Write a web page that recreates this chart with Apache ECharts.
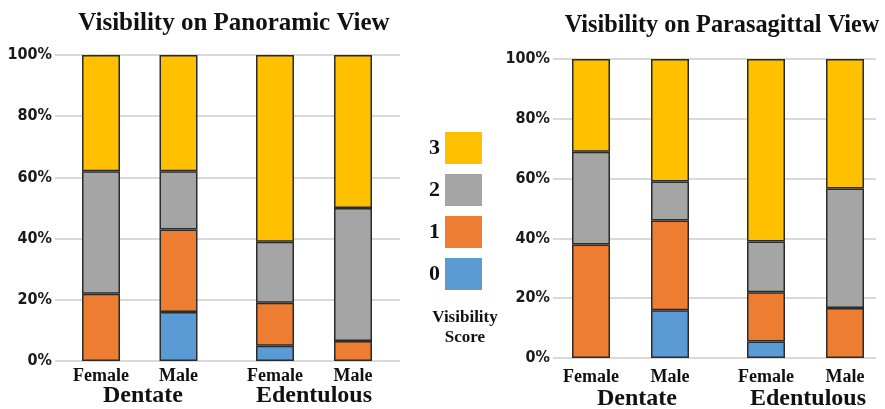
<!DOCTYPE html>
<html>
<head>
<meta charset="utf-8">
<script src="https://cdn.jsdelivr.net/npm/echarts@6/dist/echarts.min.js"></script>
<style>html,body{margin:0;padding:0;background:#fff}#c{width:885px;height:409px}</style>
</head>
<body>
<div id="c"></div>
<script>
// ---- data ----
const scores = ['0', '1', '2', '3'];
const sexes = ['Female', 'Male'];
const groups = ['Dentate', 'Edentulous'];
const yTicks = [0, 20, 40, 60, 80, 100];
const titles = ['Visibility on Panoramic View', 'Visibility on Parasagittal View'];
// percentages per score, [Female, Male]
const panoDentate = { '0': [0, 16], '1': [22, 27], '2': [40, 19], '3': [38, 38] };
const panoEdent   = { '0': [5, 0],  '1': [14, 6.5], '2': [20, 43.5], '3': [61, 50] };
const paraDentate = { '0': [0, 16], '1': [38, 30], '2': [31, 13], '3': [31, 41] };
const paraEdent   = { '0': [5.5, 0], '1': [16.5, 16.7], '2': [17, 40], '3': [61, 43.3] };

const colors = { '0': '#5B9BD5', '1': '#ED7D31', '2': '#A5A5A5', '3': '#FFC000' };
const serif = '"Liberation Serif", "Times New Roman", serif';
const narrow = '"Liberation Sans Narrow", "DejaVu Sans Condensed", sans-serif';

// layout
const charts = [
  { bg: { left: 55, width: 345, top: 55, height: 306 },
    bar: [{ left: 62.25, width: 155 }, { left: 236, width: 156 }],
    data: [panoDentate, panoEdent], catMargin: 6, title: [234, 24], titleSize: 25,
    groupLbl: [[143, 396], [314, 396]] },
  { bg: { left: 553, width: 323, top: 59, height: 299 },
    bar: [{ left: 551.5, width: 158 }, { left: 726.5, width: 158 }],
    data: [paraDentate, paraEdent], catMargin: 10, title: [722, 26], titleSize: 24.3,
    groupLbl: [[637, 399], [808, 399]] }
];

const grid = [], xAxis = [], yAxis = [], series = [], graphic = [];
charts.forEach((ch, ci) => {
  // background grid with gridlines + y labels
  const bgIdx = grid.length;
  grid.push({ left: ch.bg.left, top: ch.bg.top, width: ch.bg.width, height: ch.bg.height });
  xAxis.push({ gridIndex: bgIdx, type: 'value', min: 0, max: 1, show: false });
  yAxis.push({ gridIndex: bgIdx, type: 'value', min: yTicks[0], max: yTicks[yTicks.length - 1],
    interval: yTicks[1] - yTicks[0],
    axisLine: { show: false }, axisTick: { show: false },
    splitLine: { lineStyle: { color: '#d9d9d9', width: 2 } },
    axisLabel: { formatter: '{value}%', fontFamily: narrow, fontWeight: 'bold', fontSize: 16, color: '#1a1a1a', margin: 3,
      padding: [0, 0, 3, 0] } });
  // bar grids
  ch.bar.forEach((b, gi) => {
    const idx = grid.length;
    grid.push({ left: b.left, width: b.width, top: ch.bg.top, height: ch.bg.height });
    xAxis.push({ gridIndex: idx, type: 'category', data: sexes,
      axisLine: { show: false }, axisTick: { show: false },
      axisLabel: { fontFamily: serif, fontWeight: 'bold', fontSize: 18, color: '#111', margin: ch.catMargin } });
    yAxis.push({ gridIndex: idx, type: 'value', min: 0, max: 100, show: false, splitLine: { show: false } });
    const d = ch.data[gi];
    scores.forEach(s => {
      series.push({ name: s, type: 'bar', stack: 'c' + ci + 'g' + gi, xAxisIndex: idx, yAxisIndex: idx,
        barWidth: 38, data: d[s].map(v => v === 0 ? '-' : v),
        itemStyle: { color: colors[s], borderColor: '#2b2b2b', borderWidth: 1.5 } });
    });
    graphic.push({ type: 'text', x: ch.groupLbl[gi][0], y: ch.groupLbl[gi][1],
      style: { text: groups[gi], font: 'bold 24px ' + serif, fill: '#111', textAlign: 'center', textVerticalAlign: 'middle' } });
  });
  graphic.push({ type: 'text', x: ch.title[0], y: ch.title[1],
    style: { text: titles[ci], font: 'bold ' + ch.titleSize + 'px ' + serif, fill: '#111', textAlign: 'center', textVerticalAlign: 'middle' } });
});
graphic.push({ type: 'text', x: 465, y: 318,
  style: { text: 'Visibility', font: 'bold 17px ' + serif, fill: '#111', textAlign: 'center', textVerticalAlign: 'middle' } });
graphic.push({ type: 'text', x: 465, y: 338,
  style: { text: 'Score', font: 'bold 17px ' + serif, fill: '#111', textAlign: 'center', textVerticalAlign: 'middle' } });

const chart = echarts.init(document.getElementById('c'));
chart.setOption({
  animation: false,
  backgroundColor: '#fff',
  grid, xAxis, yAxis, series, graphic,
  legend: {
    data: scores.slice().reverse(), orient: 'vertical', left: 424, top: 127,
    icon: 'rect',
    itemWidth: 37, itemHeight: 32, itemGap: 10, align: 'right',
    itemStyle: { borderWidth: 0 },
    textStyle: { fontFamily: serif, fontWeight: 'bold', fontSize: 22, color: '#111' }
  }
});
</script>
</body>
</html>
